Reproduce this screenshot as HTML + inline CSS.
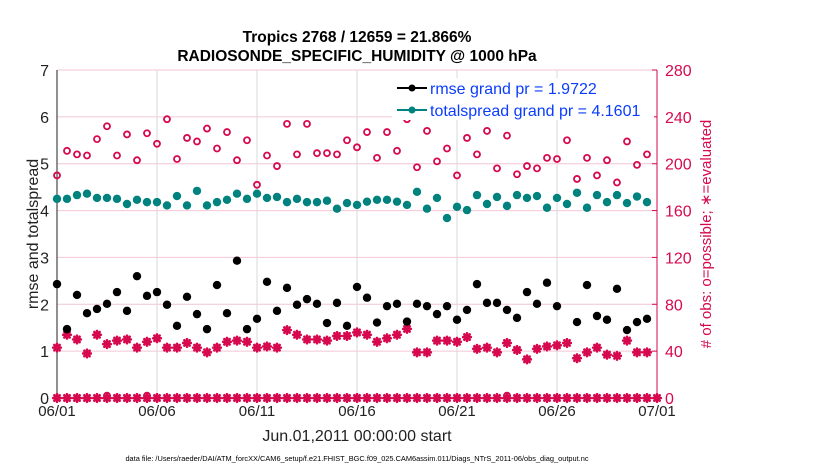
<!DOCTYPE html>
<html><head><meta charset="utf-8"><style>
body{margin:0;background:#fff;width:830px;height:470px;overflow:hidden;font-family:"Liberation Sans",sans-serif}
</style></head><body>
<svg id="chart" width="830" height="470" xmlns="http://www.w3.org/2000/svg" font-family="Liberation Sans, sans-serif"></svg>
<script>
const rmse=[2.43,1.47,2.20,1.81,1.90,2.01,2.26,1.86,2.60,2.18,2.26,1.99,1.54,2.16,1.79,1.47,2.41,1.81,2.93,1.47,1.69,2.48,1.86,2.35,1.99,2.11,2.01,1.60,2.03,1.54,2.37,2.14,1.61,1.96,2.01,1.63,2.01,1.96,1.79,1.96,1.67,1.88,2.43,2.03,2.03,1.88,1.71,2.26,2.01,2.46,1.96,null,1.62,2.41,1.75,1.67,2.33,1.45,1.62,1.69];
const spread=[4.25,4.25,4.33,4.36,4.27,4.27,4.25,4.14,4.23,4.18,4.18,4.11,4.31,4.11,4.42,4.11,4.18,4.23,4.36,4.25,4.36,4.27,4.29,4.18,4.25,4.18,4.18,4.21,4.04,4.16,4.12,4.19,4.23,4.23,4.19,4.12,4.40,4.04,4.27,3.84,4.08,4.01,4.33,4.14,4.29,4.10,4.33,4.27,4.31,4.06,4.27,4.14,4.38,4.06,4.33,4.18,4.33,4.16,4.30,4.18];
const possible=[190,211,208,207,221,232,207,225,203,226,217,238,204,222,219,230,213,227,203,220,182,207,198,234,208,234,209,209,208,220,214,227,205,227,211,238,197,228,202,213,190,222,208,228,196,224,191,198,196,205,204,220,187,205,190,203,184,219,199,208];
const evaluated=[43,54,50,38,54,46,49,50,43,48,51,43,43,47,43,39,43,48,49,48,43,44,43,58,54,50,50,49,53,53,56,54,48,51,54,59,39,39,49,49,48,52,42,43,39,47,41,33,42,44,45,47,34,39,43,37,36,49,39,39];
const zeroPossible=[[5,2],[9,2],[45,2]];
const xTickLabels=['06/01','06/06','06/11','06/16','06/21','06/26','07/01'];
const yTicks=[0,1,2,3,4,5,6,7];
const y2Ticks=[0,40,80,120,160,200,240,280];

const NS='http://www.w3.org/2000/svg',svg=document.getElementById('chart');
const X0=57,X1=657,Y0=398,Y1=70;
const xDay=d=>X0+d*(X1-X0)/30;
const yL=v=>Y0-v*(Y0-Y1)/7;
const yR=v=>Y0-v*(Y0-Y1)/280;
const RED='#d6094f',TEAL='#00827f';
function el(t,a,p){const e=document.createElementNS(NS,t);for(const k in a)e.setAttribute(k,a[k]);(p||svg).appendChild(e);return e;}
function txt(s,a){const e=el('text',a);e.textContent=s;return e;}

let g;
yTicks.forEach(v=>{if(v>0){g=el('line',{x1:X0,x2:X1,y1:yL(v),y2:yL(v),stroke:'#f4c6d4','stroke-width':1});
}});
xTickLabels.forEach((s,i)=>{const x=xDay(i*5);
if(i>0&&i<6){g=el('line',{x1:x,x2:x,y1:Y1,y2:Y0,stroke:'#d9d9d9','stroke-width':1});}
el('line',{x1:x,x2:x,y1:Y0,y2:Y0-5,stroke:'#222'});
g=txt(s,{x:x,y:Y0+18,'font-size':15,'text-anchor':'middle',fill:'#222'});
});
yTicks.forEach(v=>{g=txt(String(v),{x:X0-8,y:yL(v)+6,'font-size':16,'text-anchor':'end',fill:'#222'});
});
y2Ticks.forEach(v=>{el('line',{x1:X1,x2:X1-5,y1:yR(v),y2:yR(v),stroke:RED});
g=txt(String(v),{x:X1+8,y:yR(v)+6,'font-size':16,fill:RED});
});
g=el('line',{x1:X0,x2:X0,y1:Y1,y2:Y0,stroke:'#222'});
g=el('line',{x1:X0,x2:X1,y1:Y0,y2:Y0,stroke:'#222'});
g=el('line',{x1:X1,x2:X1,y1:Y1,y2:Y0,stroke:RED});

function star(x,y,name){const s=el('g',{stroke:RED,'stroke-width':2.6,'stroke-linecap':'round'});

for(let a=0;a<4;a++){const an=a*Math.PI/4,r=3.8;el('line',{x1:x-r*Math.cos(an),y1:y-r*Math.sin(an),x2:x+r*Math.cos(an),y2:y+r*Math.sin(an)},s);}}
function circ(x,y,name){const c=el('circle',{cx:x,cy:y,r:3,fill:'none',stroke:RED,'stroke-width':1.8});
}

for(let i=0;i<=60;i++){star(xDay(i/2),yR(0),'zero-evaluated-point');}
zeroPossible.forEach(p=>circ(xDay(p[0]/2),yR(p[1]),'zero-possible-point'));
possible.forEach((v,i)=>circ(xDay(i/2),yR(v),'possible-point'));
evaluated.forEach((v,i)=>star(xDay(i/2),yR(v),'evaluated-point'));
spread.forEach((v,i)=>{g=el('circle',{cx:xDay(i/2),cy:yL(v),r:4.2,fill:TEAL});});
rmse.forEach((v,i)=>{if(v==null)return;g=el('circle',{cx:xDay(i/2),cy:yL(v),r:4.2,fill:'#000'});});

g=el('g',{});
el('rect',{x:392,y:78,width:262,height:42,fill:'#fff'},g);
let le=el('g',{},g);
el('line',{x1:397,x2:427,y1:88,y2:88,stroke:'#000','stroke-width':2},le);el('circle',{cx:412,cy:88,r:3.5,fill:'#000'},le);
let t=txt('rmse grand pr = 1.9722',{x:430,y:94,'font-size':16,fill:'#0a3cff'});le.appendChild(t);
le=el('g',{},g);
el('line',{x1:397,x2:427,y1:110,y2:110,stroke:TEAL,'stroke-width':2},le);el('circle',{cx:412,cy:110,r:3.5,fill:TEAL},le);
t=txt('totalspread grand pr = 4.1601',{x:430,y:116,'font-size':16,fill:'#0a3cff'});le.appendChild(t);

g=txt('Tropics 2768 / 12659 = 21.866%',{x:357,y:42,'font-size':15.5,'font-weight':'bold','text-anchor':'middle',fill:'#000'});
g=txt('RADIOSONDE_SPECIFIC_HUMIDITY @ 1000 hPa',{x:357,y:61,'font-size':15.5,'font-weight':'bold','text-anchor':'middle',fill:'#000'});
g=txt('rmse and totalspread',{x:0,y:0,'font-size':16,'text-anchor':'middle',fill:'#222',transform:'translate(38,234) rotate(-90)'});
g=txt('# of obs: o=possible; \u2217=evaluated',{x:0,y:0,'font-size':15,'text-anchor':'middle',fill:RED,transform:'translate(711,234) rotate(-90)'});
g=txt('Jun.01,2011 00:00:00 start',{x:357,y:441,'font-size':16,'text-anchor':'middle',fill:'#222'});
g=txt('data file: /Users/raeder/DAI/ATM_forcXX/CAM6_setup/f.e21.FHIST_BGC.f09_025.CAM6assim.011/Diags_NTrS_2011-06/obs_diag_output.nc',{x:357,y:461,'font-size':7.4,'text-anchor':'middle',fill:'#000'});
</script>
</body></html>
